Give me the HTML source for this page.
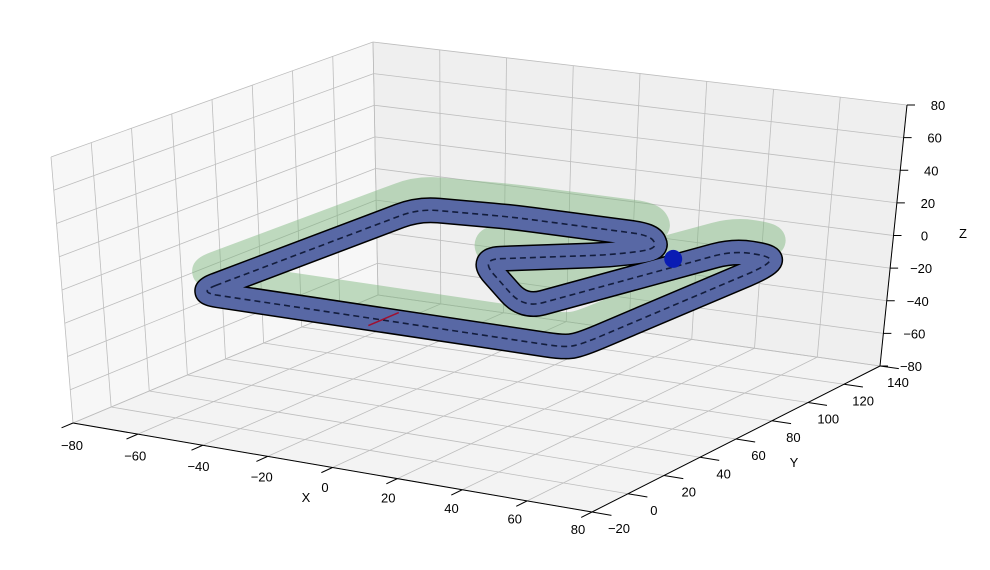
<!DOCTYPE html>
<html><head><meta charset="utf-8"><style>
body{margin:0;background:#fff;}
svg{display:block;font-family:"Liberation Sans",sans-serif;}
</style></head><body>
<svg id="chart" width="990" height="570" viewBox="0 0 990 570"></svg>
<script>
// ---- data ----
const xTicks = [-80,-60,-40,-20,0,20,40,60,80];
const yTicks = [-20,0,20,40,60,80,100,120,140];
const zTicks = [-80,-60,-40,-20,0,20,40,60,80];
const trackX = [-68, 44, 46, 49, 46, 33, 14, -22, 6, 14, 5, -38, -65];
const trackY = [28, 28, 34, 126, 136, 137, 58, 97, 118, 129, 141, 141, 137];
const trackZ = -20;
const wallLift = 12;
const startLineX = [-12, -12];
const startLineY = [21, 37];
const ballPos = [23, 122, -20];

// ---- projection (trilinear over measured box corners) ----
const C = {
 '000':[73,423],'100':[592,512],'010':[378,295],'110':[880,366],
 '001':[51,157],'101':[602,232],'011':[373,42],'111':[907,105]
};
function P(x,y,z){
  const u=(x+80)/160, v=(y+20)/160, w=(z+80)/160;
  let sx=0, sy=0;
  for(const i of [0,1])for(const j of [0,1])for(const k of [0,1]){
    const f=(i?u:1-u)*(j?v:1-v)*(k?w:1-w);
    const c=C[''+i+j+k]; sx+=f*c[0]; sy+=f*c[1];
  }
  return [sx,sy];
}
// rounded closed path through screen points
function roundPath(p,r){
  const n=p.length, segs=[];
  for(let i=0;i<n;i++){
    const a=p[(i-1+n)%n], b=p[i], c=p[(i+1)%n];
    const d1=Math.hypot(a[0]-b[0],a[1]-b[1]), d2=Math.hypot(c[0]-b[0],c[1]-b[1]);
    const r1=Math.min(r,d1*0.45), r2=Math.min(r,d2*0.45);
    segs.push([[b[0]+(a[0]-b[0])*r1/d1,b[1]+(a[1]-b[1])*r1/d1],b,[b[0]+(c[0]-b[0])*r2/d2,b[1]+(c[1]-b[1])*r2/d2]]);
  }
  let d='M'+segs[0][0].map(v=>v.toFixed(1)).join(',');
  segs.forEach((s,i)=>{
    d+=' Q'+s[1].map(v=>v.toFixed(1)).join(',')+' '+s[2].map(v=>v.toFixed(1)).join(',');
    const nx=segs[(i+1)%n][0]; d+=' L'+nx.map(v=>v.toFixed(1)).join(',');
  });
  return d+'Z';
}
const NS='http://www.w3.org/2000/svg';
const svg=document.getElementById('chart');
function el(tag,attrs,parent){const e=document.createElementNS(NS,tag);for(const k in attrs)e.setAttribute(k,attrs[k]);(parent||svg).appendChild(e);return e;}
function pts(arr){return arr.map(p=>p[0].toFixed(1)+','+p[1].toFixed(1)).join(' ');}

// panes
let e;
e=el('polygon',{points:pts([P(-80,-20,-80),P(80,-20,-80),P(80,140,-80),P(-80,140,-80)]),fill:'#f3f3f3'});


e=el('polygon',{points:pts([P(-80,-20,-80),P(-80,140,-80),P(-80,140,80),P(-80,-20,80)]),fill:'#f7f7f7'});


e=el('polygon',{points:pts([P(-80,140,-80),P(80,140,-80),P(80,140,80),P(-80,140,80)]),fill:'#efefef'});



// grid
const grid=el('g',{stroke:'#bdbdbd','stroke-width':0.8,fill:'none'});


function line(a,b,g,attrs){const o={x1:a[0],y1:a[1],x2:b[0],y2:b[1]};Object.assign(o,attrs||{});return el('line',o,g);}
xTicks.forEach(x=>{line(P(x,-20,-80),P(x,140,-80),grid);line(P(x,140,-80),P(x,140,80),grid);});
yTicks.forEach(y=>{line(P(-80,y,-80),P(80,y,-80),grid);line(P(-80,y,-80),P(-80,y,80),grid);});
zTicks.forEach(z=>{line(P(-80,-20,z),P(-80,140,z),grid);line(P(-80,140,z),P(80,140,z),grid);});

// green walls
const wallPts=trackX.map((x,i)=>P(x,trackY[i],trackZ+wallLift));
e=el('path',{d:roundPath(wallPts,20),fill:'none',stroke:'rgb(120,180,120)','stroke-opacity':0.45,'stroke-width':28,'stroke-linejoin':'round'});



// track
const tp=trackX.map((x,i)=>P(x,trackY[i],trackZ));
const td=roundPath(tp,20);
e=el('path',{d:td,fill:'none',stroke:'#000','stroke-width':26,'stroke-linejoin':'round'});


e=el('path',{d:td,fill:'none',stroke:'#5868a5','stroke-width':23,'stroke-linejoin':'round'});


e=el('path',{d:td,fill:'none',stroke:'#131d3d','stroke-width':1.6,'stroke-dasharray':'6,4','stroke-linejoin':'round'});



// start line
e=line(P(startLineX[0],startLineY[0],trackZ),P(startLineX[1],startLineY[1],trackZ),svg,{stroke:'#a01030','stroke-width':1.5});



// ball
const bp=P(ballPos[0],ballPos[1],ballPos[2]);
e=el('circle',{cx:bp[0],cy:bp[1],r:9,fill:'#0a1cb4'});



// axes
const ax=el('g',{stroke:'#000','stroke-width':1,fill:'none'});


line(P(-80,-20,-80),P(80,-20,-80),ax);
line(P(80,-20,-80),P(80,140,-80),ax);
line(P(80,140,-80),P(80,140,80),ax);
const lab=el('g',{'font-size':13,fill:'#000','text-anchor':'middle'});


function txt(s,x,y,name){const t=el('text',{x:x,y:y},lab);t.textContent=s;return t;}
xTicks.forEach((x,i)=>{const p=P(x,-20,-80);const q=P(x,-14,-80);line(p,[2*p[0]-q[0],2*p[1]-q[1]],ax);
  const f=i/(xTicks.length-1);txt(String(x).replace('-','\u2212'),p[0]-1-13*f,p[1]+27-5*f,'x-tick-label');});
yTicks.forEach((y,i)=>{const p=P(80,y,-80);const q=P(74,y,-80);line(p,[2*p[0]-q[0],2*p[1]-q[1]],ax);
  const f=i/(yTicks.length-1);txt(String(y).replace('-','\u2212'),p[0]+27-9*f,p[1]+21,'y-tick-label');});
zTicks.forEach(z=>{const p=P(80,140,z);line(p,[p[0]+8,p[1]],ax);txt(String(z).replace('-','\u2212'),p[0]+31,p[1]+5,'z-tick-label');});
txt('X',306,502,'x-axis-title');
txt('Y',794,467,'y-axis-title');
txt('Z',963,238,'z-axis-title');
</script>
</body></html>
